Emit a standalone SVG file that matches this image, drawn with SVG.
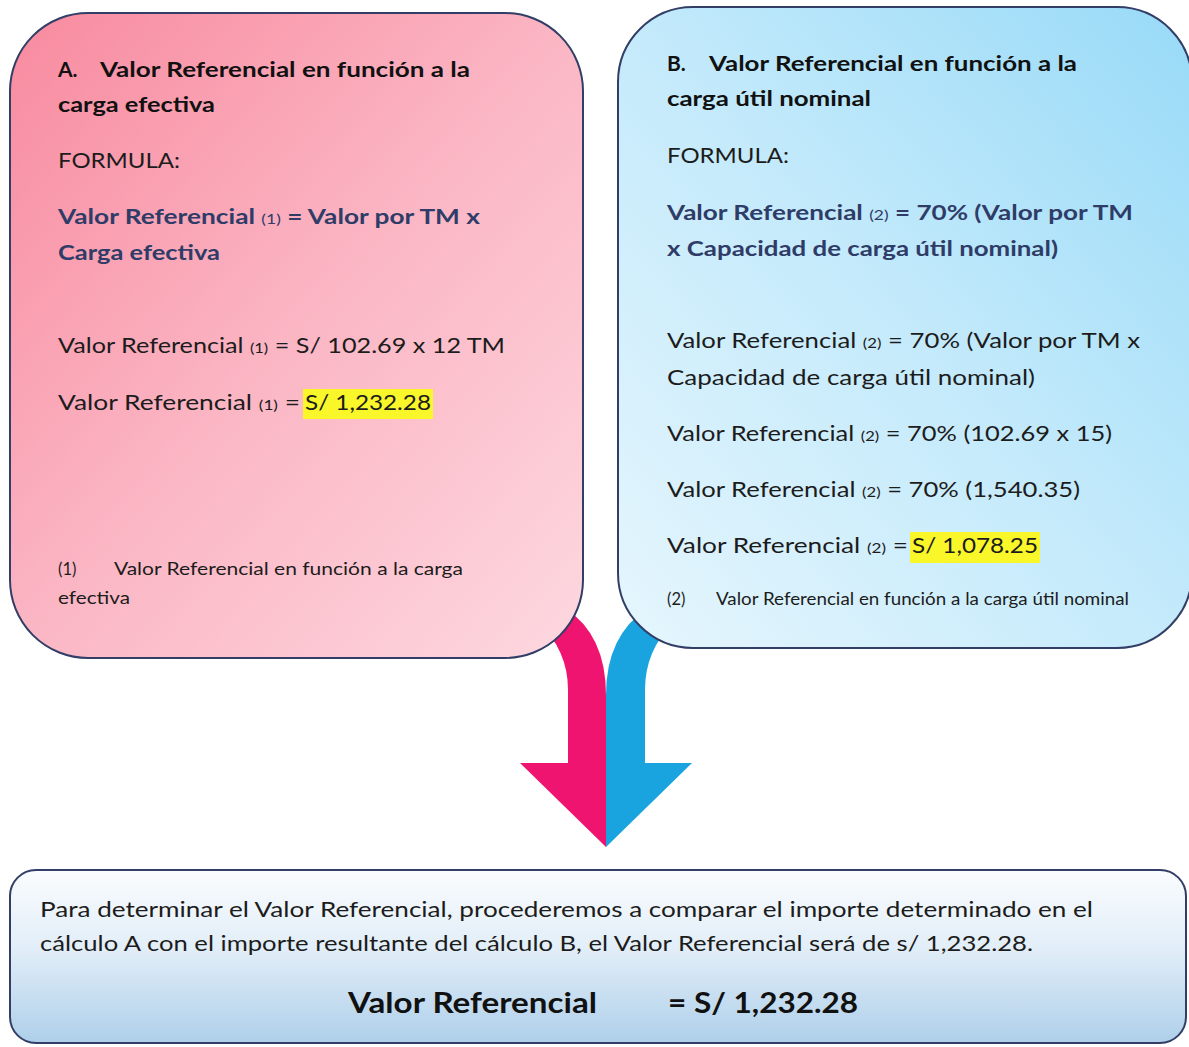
<svg xmlns="http://www.w3.org/2000/svg" width="1189" height="1047" viewBox="0 0 1189 1047">
<defs>
<linearGradient id="gA" x1="0" y1="0" x2="1" y2="1">
<stop offset="0" stop-color="#f88a9f"/>
<stop offset="0.5" stop-color="#fbb6c4"/>
<stop offset="1" stop-color="#fdd8e0"/>
</linearGradient>
<linearGradient id="gB" x1="1" y1="0" x2="0" y2="1">
<stop offset="0" stop-color="#98daf7"/>
<stop offset="0.5" stop-color="#c4eafb"/>
<stop offset="1" stop-color="#e6f6fd"/>
</linearGradient>
<linearGradient id="gC" x1="0" y1="0" x2="0" y2="1">
<stop offset="0" stop-color="#fafcfe"/>
<stop offset="0.45" stop-color="#e2eef8"/>
<stop offset="1" stop-color="#aecfea"/>
</linearGradient>
<style>
.box{stroke:#323e66;stroke-width:2}
text{font-family:Lato,"Open Sans","Liberation Sans",sans-serif;fill:#1c1c1c}
.t{font-weight:bold;font-size:21px;fill:#111}
.r{font-size:21.5px}
.f{font-weight:bold;font-size:21px;fill:#2f3c68}
.sub{font-size:14px;font-weight:normal}
.n{font-size:16.5px}
.p{font-size:21.5px}
.big{font-weight:bold;font-size:29px;fill:#111}
.hl{fill:#f9f62a}
</style>
</defs>
<g id="connectors">
<path fill="#ef1470" d="M538 622 Q568 650 568 690 L568 763 L520 763 L606 847 L606 695 Q606 635 565 608 Z"/>
<path fill="#19a3df" d="M674 622 Q645 650 645 690 L645 763 L692 763 L606 847 L606 695 Q606 635 648 608 Z"/>
</g>
<g id="nodeA">
<rect class="box" x="10" y="13" width="573" height="645" rx="78" fill="url(#gA)"/>
<text class="t" x="58" y="77">A.</text>
<text class="t" x="100" y="77" textLength="370" lengthAdjust="spacingAndGlyphs">Valor Referencial en función a la</text>
<text class="t" x="58" y="112" textLength="157" lengthAdjust="spacingAndGlyphs">carga efectiva</text>
<text class="r" x="58" y="168" textLength="122" lengthAdjust="spacingAndGlyphs">FORMULA:</text>
<text class="f" x="58" y="224" textLength="422" lengthAdjust="spacingAndGlyphs">Valor Referencial <tspan class="sub">(1)</tspan> = Valor por TM x</text>
<text class="f" x="58" y="260" textLength="162" lengthAdjust="spacingAndGlyphs">Carga efectiva</text>
<text class="r" x="58" y="353" textLength="447" lengthAdjust="spacingAndGlyphs">Valor Referencial <tspan class="sub">(1)</tspan> = S/ 102.69 x 12 TM</text>
<rect class="hl" x="303" y="389" width="130" height="30"/>
<text class="r" x="58" y="410" textLength="242" lengthAdjust="spacingAndGlyphs">Valor Referencial <tspan class="sub">(1)</tspan> =</text>
<text class="r" x="305" y="410" textLength="126" lengthAdjust="spacingAndGlyphs">S/ 1,232.28</text>
<text class="n" x="58" y="575">(1)</text>
<text class="n" x="114" y="575" textLength="349" lengthAdjust="spacingAndGlyphs">Valor Referencial en función a la carga</text>
<text class="n" x="58" y="604" textLength="72" lengthAdjust="spacingAndGlyphs">efectiva</text>
</g>
<g id="nodeB">
<rect class="box" x="618" y="7" width="574" height="641" rx="75" fill="url(#gB)"/>
<text class="t" x="667" y="71">B.</text>
<text class="t" x="709" y="71" textLength="368" lengthAdjust="spacingAndGlyphs">Valor Referencial en función a la</text>
<text class="t" x="667" y="106" textLength="204" lengthAdjust="spacingAndGlyphs">carga útil nominal</text>
<text class="r" x="667" y="163" textLength="122" lengthAdjust="spacingAndGlyphs">FORMULA:</text>
<text class="f" x="667" y="220" textLength="466" lengthAdjust="spacingAndGlyphs">Valor Referencial <tspan class="sub">(2)</tspan> = 70% (Valor por TM</text>
<text class="f" x="667" y="256" textLength="391" lengthAdjust="spacingAndGlyphs">x Capacidad de carga útil nominal)</text>
<text class="r" x="667" y="348" textLength="473" lengthAdjust="spacingAndGlyphs">Valor Referencial <tspan class="sub">(2)</tspan> = 70% (Valor por TM x</text>
<text class="r" x="667" y="385" textLength="368" lengthAdjust="spacingAndGlyphs">Capacidad de carga útil nominal)</text>
<text class="r" x="667" y="441" textLength="445" lengthAdjust="spacingAndGlyphs">Valor Referencial <tspan class="sub">(2)</tspan> = 70% (102.69 x 15)</text>
<text class="r" x="667" y="497" textLength="413" lengthAdjust="spacingAndGlyphs">Valor Referencial <tspan class="sub">(2)</tspan> = 70% (1,540.35)</text>
<rect class="hl" x="910" y="532" width="130" height="31"/>
<text class="r" x="667" y="553" textLength="241" lengthAdjust="spacingAndGlyphs">Valor Referencial <tspan class="sub">(2)</tspan> =</text>
<text class="r" x="912" y="553" textLength="126" lengthAdjust="spacingAndGlyphs">S/ 1,078.25</text>
<text class="n" x="667" y="605">(2)</text>
<text class="n" x="716" y="605" textLength="413" lengthAdjust="spacingAndGlyphs">Valor Referencial en función a la carga útil nominal</text>
</g>
<g id="nodeC">
<rect class="box" x="10" y="870" width="1176" height="173" rx="26" fill="url(#gC)"/>
<text class="p" x="40" y="917" textLength="1053" lengthAdjust="spacingAndGlyphs">Para determinar el Valor Referencial, procederemos a comparar el importe determinado en el</text>
<text class="p" x="40" y="951" textLength="993" lengthAdjust="spacingAndGlyphs">cálculo A con el importe resultante del cálculo B, el Valor Referencial será de s/ 1,232.28.</text>
<text class="big" x="348" y="1013" textLength="249" lengthAdjust="spacingAndGlyphs">Valor Referencial</text>
<text class="big" x="668" y="1013" textLength="190" lengthAdjust="spacingAndGlyphs">= S/ 1,232.28</text>
</g>
</svg>
